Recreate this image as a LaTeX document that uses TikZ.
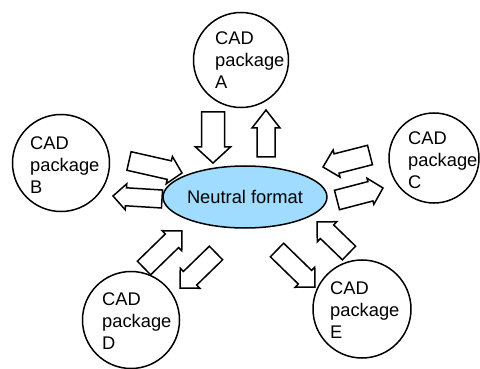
\documentclass[tikz,border=0pt]{standalone}
\usepackage{fontspec}
\setmainfont{Liberation Sans}
\usetikzlibrary{calc,shapes.geometric}

% hollow block arrow from #1 to #2; shaft half width #3, head half width #4, head length #5
\newcommand{\blockarrow}[5]{%
  \coordinate (hb) at ($(#2)!#5!(#1)$);
  \draw[blockarr]
    ($(#1)!#3!90:(#2)$) -- ($(hb)!#3!90:(#2)$) -- ($(hb)!#4!90:(#2)$) -- (#2)
    -- ($(hb)!#4!-90:(#2)$) -- ($(hb)!#3!-90:(#2)$) -- ($(#1)!#3!-90:(#2)$) -- cycle;
}

\definecolor{neutralfill}{RGB}{160,220,255}

\tikzset{
  pkg/.style={circle, draw=black, line width=1.5pt, fill=white, minimum size=#1, inner sep=0pt},
  pkgtext/.style={anchor=west, align=left, inner sep=0pt,
    font=\fontsize{18.3pt}{22pt}\selectfont},
  neutral/.style={ellipse, draw=black, line width=1.5pt, fill=neutralfill,
    minimum width=146pt, minimum height=62pt, inner sep=0pt,
    font=\fontsize{18.3pt}{22pt}\selectfont},
  blockarr/.style={draw=black, fill=white, line width=1.5pt, line join=miter},
}

\begin{document}
\begin{tikzpicture}[x=1pt, y=-1pt]
  \useasboundingbox (0,0) rectangle (480,369);

  % CAD packages
  \node[pkg=95pt] (A) at (241,60) {};
  \node[pkgtext] (tA) at (215,60) {CAD\\package\\A};
  \node[pkg=97pt] (B) at (61,163) {};
  \node[pkgtext] (tB) at (30,165) {CAD\\package\\B};
  \node[pkg=90pt] (C) at (434,158) {};
  \node[pkgtext] (tC) at (408,160) {CAD\\package\\C};
  \node[pkg=97pt] (D) at (131,320) {};
  \node[pkgtext] (tD) at (102,321) {CAD\\package\\D};
  \node[pkg=98pt] (E) at (362,309) {};
  \node[pkgtext] (tE) at (330,310) {CAD\\package\\E};

  % neutral exchange format
  \node[neutral] (N) at (245,197) {Neutral format};

  % exchange arrows
  \coordinate (aDs) at (213,112); \coordinate (aDt) at (213,163);
  \coordinate (aUs) at (266,157); \coordinate (aUt) at (266,110);
  \coordinate (bRs) at (129,161); \coordinate (bRt) at (182,173);
  \coordinate (bLs) at (162,199); \coordinate (bLt) at (113,196);
  \coordinate (cLs) at (370,155); \coordinate (cLt) at (323,167);
  \coordinate (cRs) at (337,200); \coordinate (cRt) at (383,188);
  \coordinate (dUs) at (144,268); \coordinate (dUt) at (182,231);
  \coordinate (dDs) at (216,253); \coordinate (dDt) at (180,288);
  \coordinate (eDs) at (277,250); \coordinate (eDt) at (315,287);
  \coordinate (eUs) at (349,253); \coordinate (eUt) at (317,222);

  \blockarrow{aDs}{aDt}{11.5pt}{17.5pt}{16pt}
  \blockarrow{aUs}{aUt}{9pt}{14pt}{18pt}
  \blockarrow{bRs}{bRt}{9.5pt}{14pt}{13pt}
  \blockarrow{bLs}{bLt}{9pt}{13pt}{13pt}
  \blockarrow{cLs}{cLt}{10pt}{14pt}{14pt}
  \blockarrow{cRs}{cRt}{10pt}{13.5pt}{13pt}
  \blockarrow{dUs}{dUt}{9.5pt}{14pt}{14pt}
  \blockarrow{dDs}{dDt}{9.5pt}{14pt}{14pt}
  \blockarrow{eDs}{eDt}{9.5pt}{14pt}{14pt}
  \blockarrow{eUs}{eUt}{9.5pt}{14pt}{14pt}
\end{tikzpicture}
\end{document}
